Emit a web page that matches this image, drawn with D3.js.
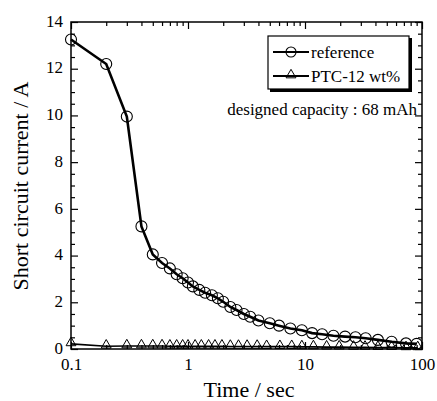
<!DOCTYPE html>
<html><head><meta charset="utf-8">
<script src="https://cdn.jsdelivr.net/npm/d3@7"></script>
<style>body{margin:0;background:#fff}svg{display:block}text{font-family:"Liberation Serif","Times New Roman",serif;fill:#000}</style>
</head><body><svg id="c" width="437" height="401"></svg>
<script>
const refTime = [0.1,0.2,0.3,0.4,0.5,0.6,0.7,0.8,0.9,1.0,1.1,1.25,1.4,1.6,1.8,2.0,2.3,2.6,3.0,3.4,4.0,5.0,6.0,7.5,9.4,11.5,14,17.5,22,27,33,42,55,73,90];
const refCurrent = [13.25,12.2,9.95,5.25,4.05,3.68,3.45,3.2,3.03,2.85,2.68,2.53,2.41,2.3,2.17,2.02,1.8,1.67,1.5,1.38,1.22,1.1,1.0,0.88,0.8,0.68,0.63,0.57,0.53,0.5,0.46,0.39,0.31,0.24,0.22];
const ptcTime = [0.1,0.2,0.3,0.4,0.5,0.6,0.7,0.8,0.9,1.0,1.15,1.3,1.5,1.7,1.95,2.3,2.7,3.2,3.9,4.7,6.1,7.7,9.4,11.8,15.3,19.6,26,32.6,42,55,73,92];
const ptcCurrent = [0.22,0.12,0.13,0.13,0.13,0.13,0.12,0.12,0.12,0.12,0.12,0.12,0.12,0.12,0.12,0.11,0.11,0.11,0.11,0.1,0.1,0.1,0.09,0.09,0.08,0.08,0.07,0.07,0.06,0.06,0.05,0.05];
const xTickLabels = ["0.1","1","10","100"];
const xTickValues = [0.1,1,10,100];
const yTickValues = [0,2,4,6,8,10,12,14];
const seriesNames = ["reference","PTC-12 wt%"];
const note = "designed capacity : 68 mAh";

const svg = d3.select("#c");
const L=71,R=422,T=22,B=349;
const x = d3.scaleLog().domain([0.1,100]).range([L,R]);
const y = d3.scaleLinear().domain([0,14]).range([B,T]);

const xMinor = [];
for (const d of [0.1,1,10]) for (let k=2;k<=9;k++) xMinor.push(d*k);
const yMinor = d3.range(0,14.01,0.5).filter(v=>v%2!==0);

function ax(axisGen, tr){ const g=svg.append("g").attr("transform",tr).call(axisGen); g.select(".domain").remove(); g.selectAll("line").attr("stroke","#000").attr("stroke-width",1.2); return g; }

const gb = ax(d3.axisBottom(x).tickValues(xTickValues).tickSizeInner(-7).tickSizeOuter(0).tickPadding(9).tickFormat((d,i)=>xTickLabels[i]), `translate(0,${B})`);
gb.selectAll("text").attr("font-size",17);
ax(d3.axisBottom(x).tickValues(xMinor).tickSize(-4).tickFormat(""), `translate(0,${B})`);
ax(d3.axisTop(x).tickValues(xTickValues).tickSize(-7).tickFormat(""), `translate(0,${T})`);
ax(d3.axisTop(x).tickValues(xMinor).tickSize(-4).tickFormat(""), `translate(0,${T})`);
const gl = ax(d3.axisLeft(y).tickValues(yTickValues).tickSizeInner(-7).tickSizeOuter(0).tickPadding(8).tickFormat(d3.format("d")), `translate(${L},0)`);
gl.selectAll("text").attr("font-size",17).attr("dy","0.25em");
ax(d3.axisLeft(y).tickValues(yMinor).tickSize(-4).tickFormat(""), `translate(${L},0)`);
ax(d3.axisRight(y).tickValues(yTickValues).tickSize(-7).tickFormat(""), `translate(${R},0)`);
ax(d3.axisRight(y).tickValues(yMinor).tickSize(-4).tickFormat(""), `translate(${R},0)`);

svg.append("rect").attr("x",L).attr("y",T).attr("width",R-L).attr("height",B-T).attr("fill","none").attr("stroke","#000").attr("stroke-width",1.5);

const line = d3.line().x(d=>x(d[0])).y(d=>y(d[1]));
const ref = refTime.map((t,i)=>[t,refCurrent[i]]);
const ptc = ptcTime.map((t,i)=>[t,ptcCurrent[i]]);

svg.append("path").datum(ptc).attr("d",line).attr("fill","none").attr("stroke","#000").attr("stroke-width",1.6);
svg.append("path").datum(ref).attr("d",line).attr("fill","none").attr("stroke","#000").attr("stroke-width",2.6);

const tri = d3.symbol().type(d3.symbolTriangle).size(42);
svg.append("g").selectAll("path").data(ptc).join("path")
  .attr("d",tri).attr("transform",d=>`translate(${x(d[0])},${y(d[1])-1})`)
  .attr("fill","none").attr("stroke","#000").attr("stroke-width",1);
svg.append("g").selectAll("circle").data(ref).join("circle")
  .attr("cx",d=>x(d[0])).attr("cy",d=>y(d[1])).attr("r",5.5)
  .attr("fill","none").attr("stroke","#000").attr("stroke-width",1.1);

svg.append("text").attr("x",249).attr("y",397).attr("text-anchor","middle").attr("font-size",22).text("Time / sec");
svg.append("text").attr("transform","translate(28,186) rotate(-90)").attr("text-anchor","middle").attr("font-size",22).text("Short circuit current / A");

const lg = svg.append("g");
lg.append("rect").attr("x",270).attr("y",38).attr("width",142).attr("height",54).attr("fill","#000");
lg.append("rect").attr("x",268).attr("y",36).attr("width",141).attr("height",53).attr("fill","#fff").attr("stroke","#000").attr("stroke-width",1.2);
const ly = [52,76];
seriesNames.forEach((n,i)=>{
  lg.append("line").attr("x1",273).attr("x2",309).attr("y1",ly[i]).attr("y2",ly[i]).attr("stroke","#000").attr("stroke-width",1.8);
  if(i===0) lg.append("circle").attr("cx",291).attr("cy",ly[i]).attr("r",5).attr("fill","none").attr("stroke","#000").attr("stroke-width",1.1);
  else lg.append("path").attr("d",tri).attr("transform",`translate(291,${ly[i]-1})`).attr("fill","none").attr("stroke","#000").attr("stroke-width",1);
  lg.append("text").attr("x",311).attr("y",ly[i]+5.5).attr("font-size",17).text(n);
});
svg.append("text").attr("x",417).attr("y",115).attr("text-anchor","end").attr("font-size",17).text(note);
</script></body></html>
